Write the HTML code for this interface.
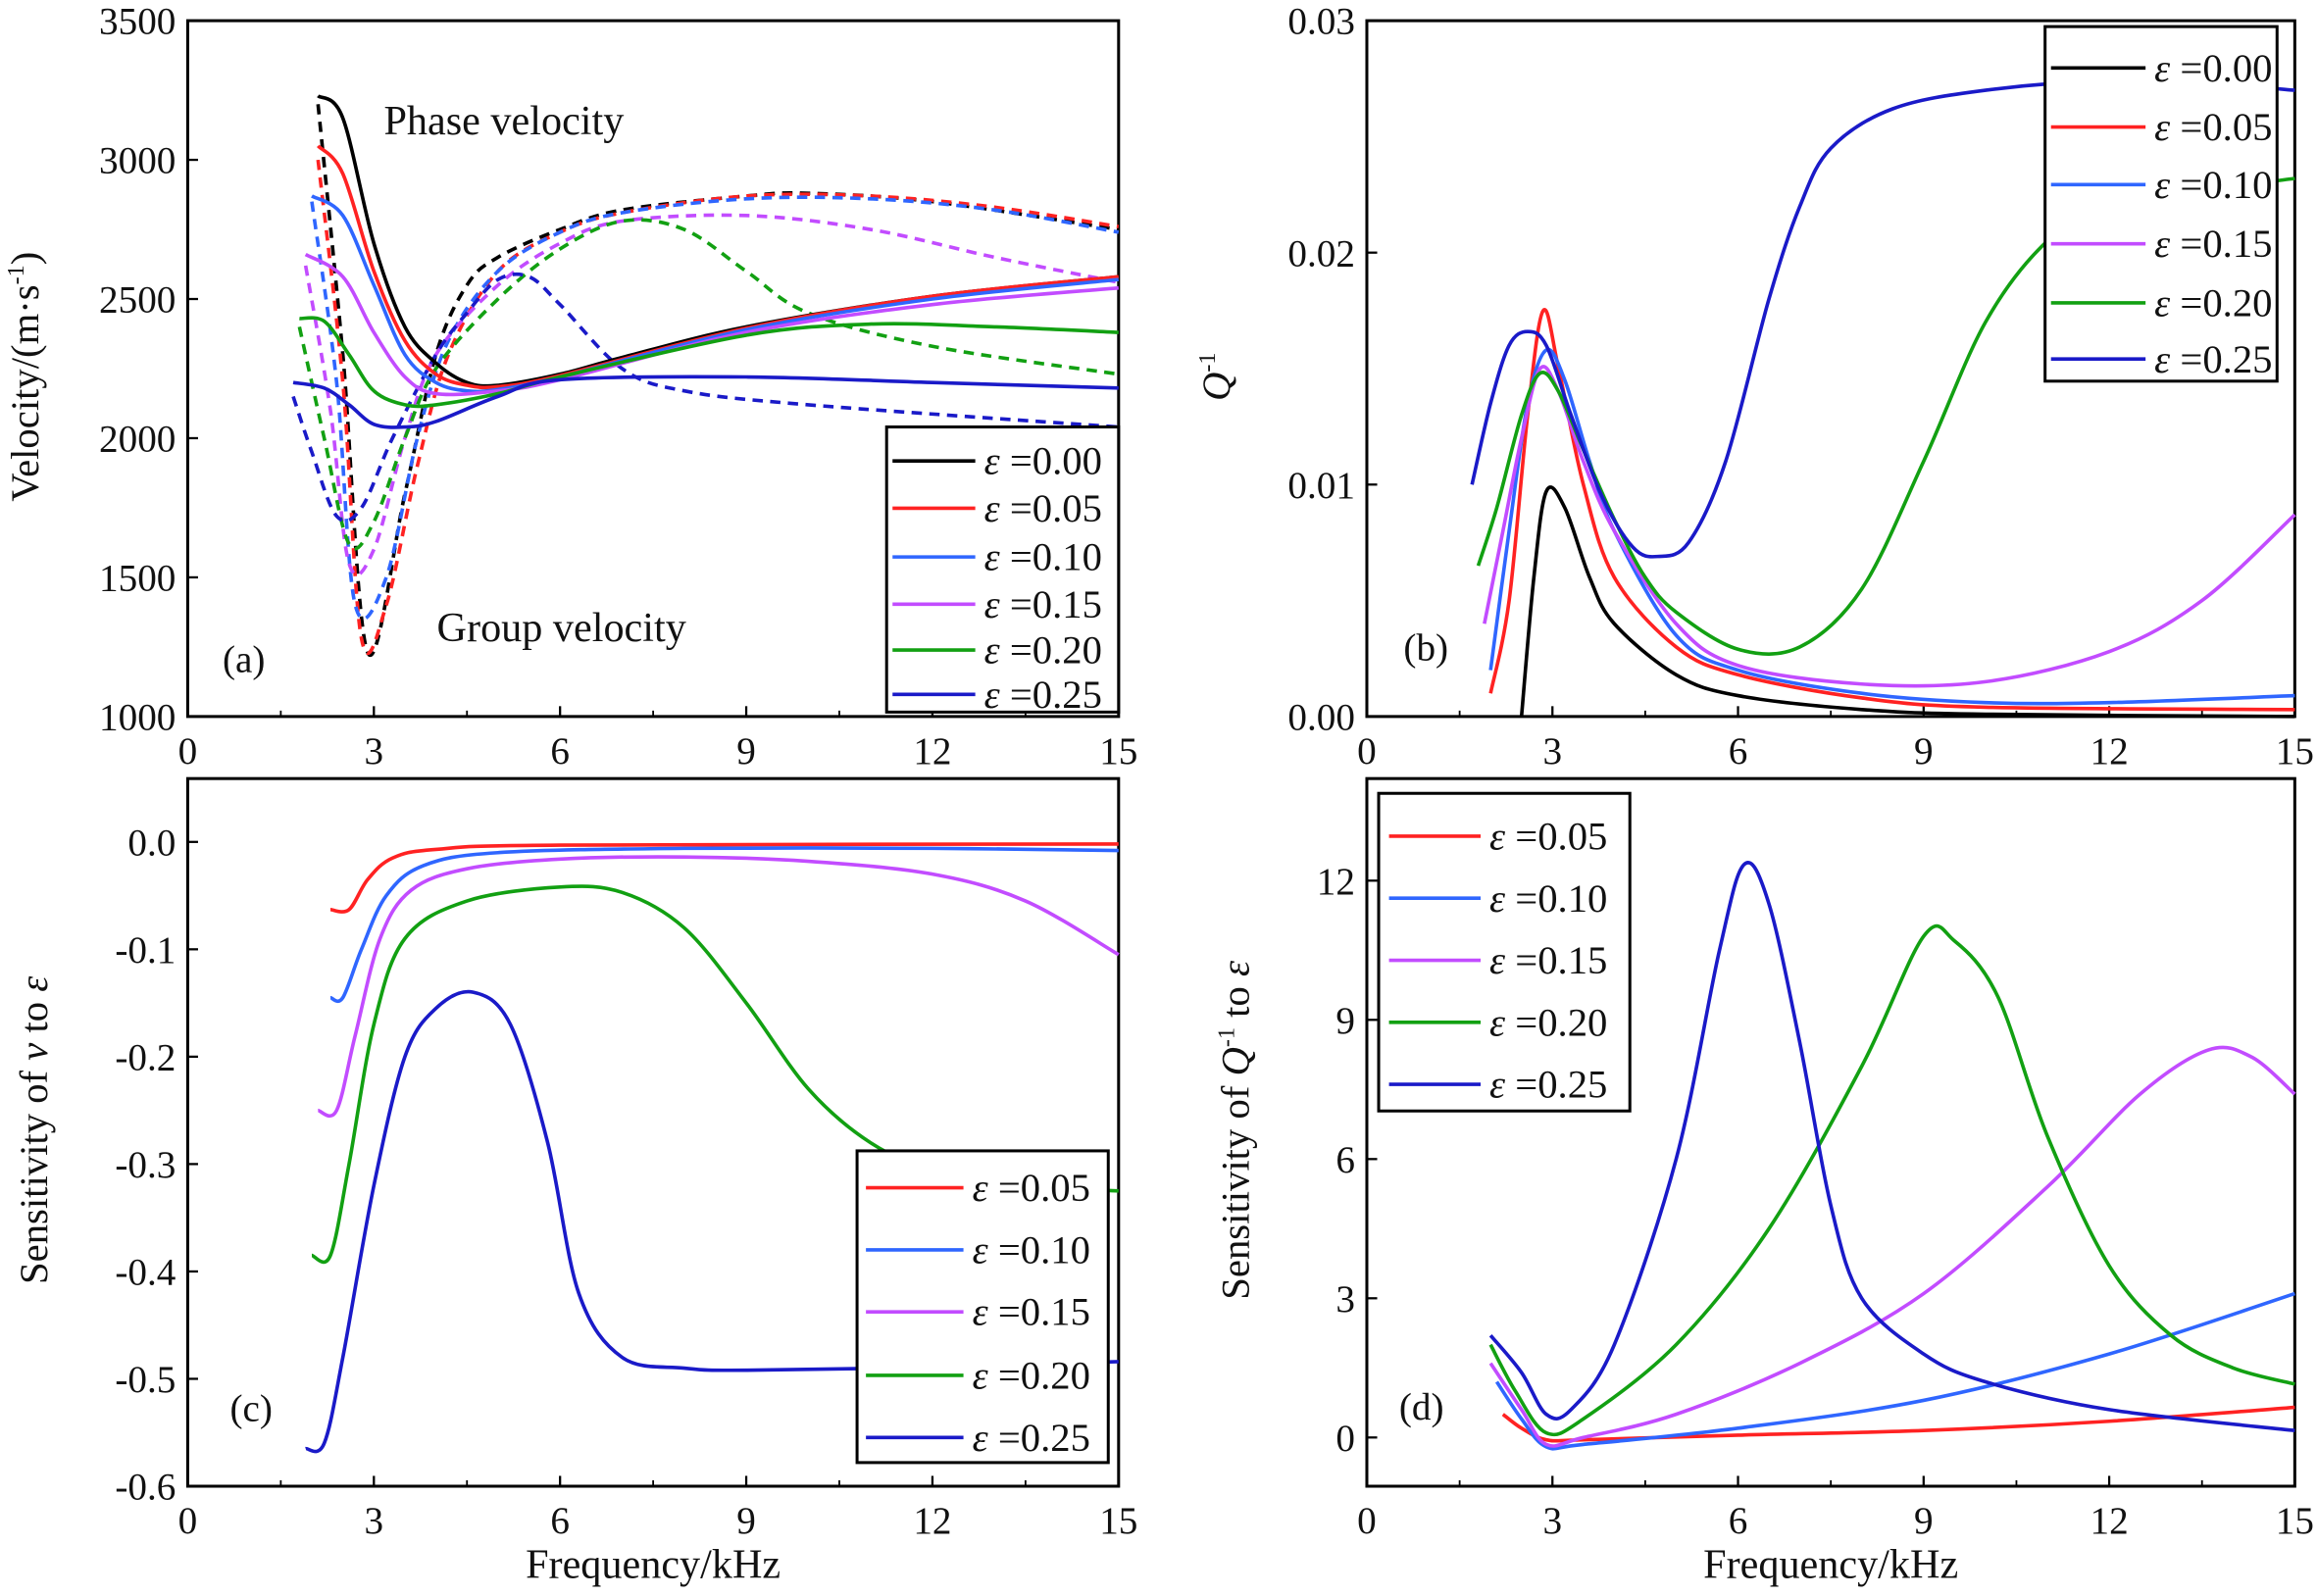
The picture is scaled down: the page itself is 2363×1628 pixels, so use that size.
<!DOCTYPE html>
<html><head><meta charset="utf-8"><style>
html,body{margin:0;padding:0;background:#fff;}
svg text{font-family:"Liberation Serif",serif;fill:#111;}
</style></head><body>
<svg id="fig" width="2363" height="1623" viewBox="0 0 1568 1077" xmlns="http://www.w3.org/2000/svg"></svg>
<script>
// ---------- DATA ----------
const epsLabels = ["0.00","0.05","0.10","0.15","0.20","0.25"];
const xTicks = [0,3,6,9,12,15];
const phaseF = [
 [2.1,2.5,3,3.5,4,4.5,5,6,7,9,12,15],
 [2.1,2.5,3,3.5,4,4.5,5,6,9,12,15],
 [2.0,2.5,3,3.5,4,4.5,5,6,9,12,15],
 [1.9,2.5,3,3.5,4,5,6,9,12,15],
 [1.8,2.2,2.6,3,3.5,4,5,6,9,11,13,15],
 [1.7,2.2,2.6,3,3.5,4,5,6,9,12,15]];
const phaseV = [
 [3230,3150,2700,2400,2270,2200,2190,2230,2290,2400,2510,2580],
 [3050,2950,2600,2350,2230,2190,2185,2225,2395,2510,2580],
 [2870,2800,2550,2300,2200,2170,2175,2220,2390,2500,2570],
 [2660,2580,2380,2220,2160,2170,2210,2380,2480,2540],
 [2430,2420,2300,2170,2120,2120,2160,2220,2370,2410,2400,2380],
 [2200,2180,2120,2050,2040,2060,2150,2210,2220,2200,2180]];
const groupF = [
 [2.1,2.5,2.9,3.5,4,4.5,5,6,7,9,10,12,15],
 [2.1,2.5,2.8,3.2,3.7,4.2,5,6,7,9,11,13,15],
 [2.0,2.4,2.7,3.2,3.7,4.2,5,6,7,9,11,13,15],
 [1.9,2.3,2.6,3.0,3.5,4,5,6,7,9,11,13,15],
 [1.8,2.2,2.6,3.0,3.5,4,5,6,7,8,9,10,12,15],
 [1.7,2.0,2.4,2.8,3.3,4,4.5,5,5.5,6,7,8,10,15]];
const groupV = [
 [3200,2300,1230,1800,2300,2550,2650,2750,2820,2870,2880,2850,2750],
 [3000,2200,1280,1400,1900,2300,2600,2740,2810,2870,2870,2830,2760],
 [2850,2200,1400,1500,2000,2350,2600,2740,2810,2860,2860,2820,2740],
 [2620,2100,1550,1600,2000,2300,2550,2700,2780,2800,2750,2650,2560],
 [2400,2000,1620,1700,2000,2250,2500,2680,2780,2750,2600,2450,2330,2230],
 [2150,1950,1720,1750,2000,2300,2450,2570,2580,2480,2250,2170,2120,2040]];
const qF = [
 [2.5,2.7,2.9,3.2,3.6,4,5,6,8,10,15],
 [2.0,2.3,2.6,2.85,3.1,3.5,4,5,6,8,10,15],
 [2.0,2.3,2.6,2.9,3.2,3.6,4,5,6,8,10,12,15],
 [1.9,2.2,2.5,2.8,3.1,3.5,4,5,6,8,10,12,13.5,15],
 [1.8,2.1,2.5,2.8,3.1,3.5,4,4.5,5,6,7,8,9,10,11,12,13,15],
 [1.7,2.0,2.3,2.6,2.9,3.3,3.8,4.3,4.7,5.2,5.8,6.5,7,7.5,8.5,10,12,14,15]];
const qV = [
 [0,0.006,0.0097,0.009,0.006,0.004,0.0018,0.0009,0.0003,0.0001,0],
 [0.001,0.005,0.013,0.0175,0.015,0.010,0.006,0.003,0.0018,0.0008,0.0004,0.0003],
 [0.002,0.008,0.0135,0.0158,0.0145,0.011,0.008,0.0035,0.002,0.001,0.0006,0.0006,0.0009],
 [0.004,0.008,0.012,0.015,0.014,0.011,0.008,0.004,0.0022,0.0014,0.0015,0.0028,0.005,0.0087],
 [0.0065,0.009,0.013,0.0148,0.014,0.0115,0.0085,0.006,0.0045,0.0029,0.003,0.0055,0.011,0.017,0.0205,0.022,0.0225,0.0232],
 [0.010,0.0135,0.016,0.0166,0.016,0.013,0.0095,0.0073,0.0069,0.0075,0.011,0.018,0.022,0.0245,0.0262,0.027,0.0274,0.0272,0.027]];
const svF = [
 [2.3,2.6,2.9,3.3,4,6,15],
 [2.3,2.5,2.8,3.2,3.8,5,8,12,15],
 [2.1,2.4,2.7,3.1,3.6,4.5,6,8,10,12,13.5,15],
 [2.0,2.3,2.6,3.0,3.5,4.5,6,7,8,9,10,11,12,13.5,15],
 [1.9,2.2,2.5,3.0,3.5,4,4.6,5.2,5.8,6.3,7,8,9,12,15]];
const svV = [
 [-0.063,-0.063,-0.035,-0.015,-0.007,-0.003,-0.002],
 [-0.145,-0.145,-0.10,-0.05,-0.022,-0.01,-0.006,-0.006,-0.008],
 [-0.25,-0.25,-0.18,-0.09,-0.045,-0.025,-0.016,-0.014,-0.018,-0.03,-0.055,-0.105],
 [-0.385,-0.385,-0.30,-0.17,-0.09,-0.055,-0.042,-0.047,-0.08,-0.15,-0.23,-0.28,-0.305,-0.32,-0.325],
 [-0.565,-0.56,-0.48,-0.32,-0.2,-0.155,-0.14,-0.17,-0.28,-0.42,-0.48,-0.49,-0.492,-0.489,-0.484]];
const sqF = [
 [2.2,2.5,2.9,3.5,6,9,12,15],
 [2.1,2.5,2.9,3.5,6,9,12,15],
 [2.0,2.5,2.9,3.5,5,7,9,11,12.5,13.6,14.3,15],
 [2.0,2.4,2.9,3.5,5,6.5,8,9,9.5,10.2,11,12,13,14,15],
 [2.0,2.5,2.9,3.3,4,5,5.7,6.1,6.5,7,7.5,8,9,10,12,15]];
const sqV = [
 [0.5,0.2,-0.05,-0.05,0.05,0.15,0.35,0.65],
 [1.2,0.4,-0.2,-0.15,0.2,0.8,1.8,3.1],
 [1.6,0.6,-0.15,0,0.5,1.6,3.1,5.4,7.4,8.35,8.2,7.4],
 [2.0,1.0,0.1,0.4,2.0,4.5,8.0,10.8,10.7,9.5,6.5,3.7,2.2,1.5,1.15],
 [2.2,1.4,0.5,0.6,2.0,6.0,10.5,12.35,11.5,8.5,5,3,1.8,1.2,0.6,0.15]];
const colors = ["#000000","#ff2222","#2f66ff","#c24cff","#12a012","#1a1ac8"];

// ---------- DRAW ----------
const svg = document.getElementById('fig');
const NS = "http://www.w3.org/2000/svg";
function mk(tag, attrs, parent){const e=document.createElementNS(NS,tag);for(const k in attrs)e.setAttribute(k,attrs[k]);(parent||svg).appendChild(e);return e;}
function txt(s,x,y,size,parent,anchor,extra){const t=mk('text',Object.assign({x:x,y:y,'font-size':size,'text-anchor':anchor||'middle'},extra||{}),parent);t.textContent=s;return t;}
function smooth(pts){let d='M'+pts[0][0].toFixed(2)+','+pts[0][1].toFixed(2);
 for(let i=0;i<pts.length-1;i++){const p0=pts[Math.max(0,i-1)],p1=pts[i],p2=pts[i+1],p3=pts[Math.min(pts.length-1,i+2)];
  const c1=[p1[0]+(p2[0]-p0[0])/6,p1[1]+(p2[1]-p0[1])/6],c2=[p2[0]-(p3[0]-p1[0])/6,p2[1]-(p3[1]-p1[1])/6];
  d+='C'+c1[0].toFixed(2)+','+c1[1].toFixed(2)+' '+c2[0].toFixed(2)+','+c2[1].toFixed(2)+' '+p2[0].toFixed(2)+','+p2[1].toFixed(2);}
 return d;}
function panel(name,x0,x1,y0,y1,ymin,ymax,yTicks,yFmt){
 const g=mk('g',{});
 
 
 const sx=f=>x0+(f-0)/(15-0)*(x1-x0), sy=v=>y1-(v-ymin)/(ymax-ymin)*(y1-y0);
 const frame=mk('rect',{x:x0,y:y0,width:x1-x0,height:y1-y0,fill:'none',stroke:'#000','stroke-width':2},g);
 
 
 const xa=mk('g',{},g);
 
 
 xTicks.forEach(t=>{mk('line',{x1:sx(t),x2:sx(t),y1:y1,y2:y1-7,stroke:'#000','stroke-width':1.5},xa);
  if(t<15)mk('line',{x1:sx(t+1.5),x2:sx(t+1.5),y1:y1,y2:y1-4,stroke:'#000','stroke-width':1.2},xa);
  txt(String(t),sx(t),y1+32,26,xa);});
 const ya=mk('g',{},g);
 
 
 yTicks.forEach(t=>{mk('line',{x1:x0,x2:x0+7,y1:sy(t),y2:sy(t),stroke:'#000','stroke-width':1.5},ya);
  txt(yFmt(t),x0-8,sy(t)+9,26,ya,'end');});
 return {g,sx,sy};}
function series(p,F,V,color,name,dash){
 const pts=F.map((f,i)=>[p.sx(f),p.sy(V[i])]);
 const e=mk('path',{d:smooth(pts),fill:'none',stroke:color,'stroke-width':2.4},p.g);
 if(dash)e.setAttribute('stroke-dasharray','7,5');
 
 }
function legend(name,x,y,w,h,rows,cols,rowY,lx,tx){
 const g=mk('g',{});
 
 
 mk('rect',{x:x,y:y,width:w,height:h,fill:'#fff',stroke:'#000','stroke-width':2},g);
 rows.forEach((r,i)=>{const eg=mk('g',{},g);
  
  
  mk('line',{x1:lx[0],x2:lx[1],y1:rowY[i],y2:rowY[i],stroke:cols[i],'stroke-width':2.4},eg);
  const t=mk('text',{x:tx,y:rowY[i]+9,'font-size':27},eg);
  t.innerHTML='<tspan font-style="italic">ε</tspan> =' + r;});}

const pa=panel('panel-a-velocity',127,757,14,485,1000,3500,[1000,1500,2000,2500,3000,3500],v=>String(v));
for(let i=0;i<6;i++){series(pa,groupF[i],groupV[i],colors[i],'group-velocity-eps-'+i,true);}
for(let i=0;i<6;i++){series(pa,phaseF[i],phaseV[i],colors[i],'phase-velocity-eps-'+i,false);}
legend('legend-a',600,289,157,193,epsLabels,colors,[312,344,377,409,440,470],[604,660],666);
const pb=panel('panel-b-attenuation',925,1553,14,485,0,0.03,[0,0.01,0.02,0.03],v=>v.toFixed(2));
for(let i=0;i<6;i++)series(pb,qF[i],qV[i],colors[i],'q-inverse-eps-'+i,false);
legend('legend-b',1384,18,157,240,epsLabels,colors,[46,86,125,165,205,243],[1388,1452],1458);
const pc=panel('panel-c-velocity-sensitivity',127,757,527,1006,-0.6,0.059,[-0.6,-0.5,-0.4,-0.3,-0.2,-0.1,0],v=>v===0?'0.0':v.toFixed(1));
for(let i=0;i<5;i++)series(pc,svF[i],svV[i],colors[i+1],'v-sensitivity-eps-'+(i+1),false);
legend('legend-c',580,779,170,211,epsLabels.slice(1),colors.slice(1),[804,846,888,931,973],[586,652],658);
const pd=panel('panel-d-q-sensitivity',925,1553,527,1006,-1.05,14.2,[0,3,6,9,12],v=>String(v));
for(let i=0;i<5;i++)series(pd,sqF[i],sqV[i],colors[i+1],'q-sensitivity-eps-'+(i+1),false);
legend('legend-d',933,537,170,215,epsLabels.slice(1),colors.slice(1),[566,608,650,692,734],[940,1002],1008);

function lab(name,s,x,y,size,rot,html){const t=mk('text',{x:x,y:y,'font-size':size,'text-anchor':'middle'});
 if(rot)t.setAttribute('transform','rotate(-90 '+x+' '+y+')');
 if(html)t.innerHTML=s;else t.textContent=s;
 
 }
lab('annotation-phase-velocity','Phase velocity',341,91,28);
lab('annotation-group-velocity','Group velocity',380,434,28);
lab('panel-label-a','(a)',165,455,26);
lab('panel-label-b','(b)',965,447,26);
lab('panel-label-c','(c)',170,962,26);
lab('panel-label-d','(d)',962,961,26);
lab('y-axis-title-a','Velocity/(m·s<tspan font-size="16" dy="-10">-1</tspan><tspan dy="10">)</tspan>',26,255,27,true,true);
lab('y-axis-title-b','<tspan font-style="italic">Q</tspan><tspan font-size="16" dy="-10">-1</tspan>',832,255,27,true,true);
lab('y-axis-title-c','Sensitivity of <tspan font-style="italic">v</tspan> to <tspan font-style="italic">ε</tspan>',32,765,27,true,true);
lab('y-axis-title-d','Sensitivity of <tspan font-style="italic">Q</tspan><tspan font-size="16" dy="-10">-1</tspan><tspan dy="10"> to </tspan><tspan font-style="italic">ε</tspan>',845,765,27,true,true);
lab('x-axis-title-c','Frequency/kHz',442,1068,28);
lab('x-axis-title-d','Frequency/kHz',1239,1068,28);
</script>
</body></html>
